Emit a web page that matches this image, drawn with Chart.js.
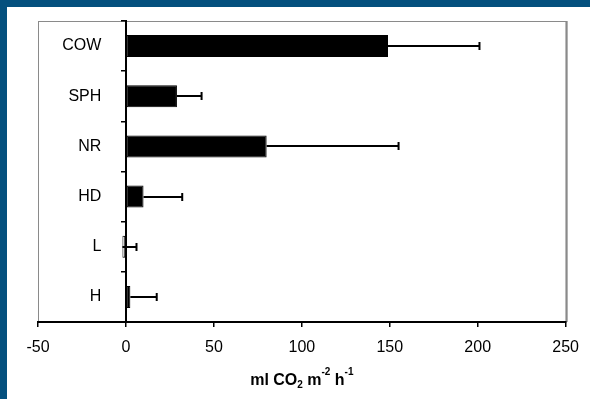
<!DOCTYPE html>
<html>
<head>
<meta charset="utf-8">
<script src="https://cdn.jsdelivr.net/npm/chart.js@4/dist/chart.umd.min.js"></script>
<style>
  html, body { margin: 0; padding: 0; background: #fff; overflow: hidden; }
  #wrap { width: 590px; height: 399px; position: relative; }
  canvas { display: block; }
  .edge { position: absolute; left: 0; top: 0; background: #04507e; }
  #edgeTop { width: 590px; height: 7px; }
  #edgeLeft { width: 7px; height: 399px; }
</style>
</head>
<body>
<div id="wrap">
  <canvas id="myChart" width="590" height="399"></canvas>
  <div class="edge" id="edgeTop"></div>
  <div class="edge" id="edgeLeft"></div>
</div>
<script>
var categories = ['COW', 'SPH', 'NR', 'HD', 'L', 'H'];
var fluxValues = [149, 29, 80, 10, -2, 2.5];
var fluxErrors = [52, 14, 75, 22, 8, 15];
var xTicks = [-50, 0, 50, 100, 150, 200, 250];
var barColors = ['#000', '#000', '#000', '#000', '#fff', '#000'];

var font = { family: '"Liberation Sans", Arial, sans-serif', size: 16 };

// white background and the grey plot area frame
var background = {
  id: 'background',
  beforeDraw: function(chart) {
    var c = chart.ctx;
    c.save();
    c.fillStyle = '#fff';
    c.fillRect(0, 0, chart.width, chart.height);
    var a = chart.chartArea;
    c.strokeStyle = '#8a8a8a';
    c.lineWidth = 1;
    c.strokeRect(a.left + 0.5, a.top + 0.5, a.right - a.left, a.bottom - a.top);
    c.fillStyle = '#8a8a8a';
    c.fillRect(a.right, a.top, 2, a.bottom - a.top);
    c.restore();
  }
};

var errorBars = {
  id: 'errorBars',
  afterDatasetsDraw: function(chart) {
    var c = chart.ctx;
    var xs = chart.scales.x;
    var meta = chart.getDatasetMeta(0);
    c.save();
    c.strokeStyle = '#000';
    c.lineWidth = 2;
    meta.data.forEach(function(bar, i) {
      var x1 = xs.getPixelForValue(fluxValues[i]);
      var x2 = xs.getPixelForValue(fluxValues[i] + fluxErrors[i]);
      var y = Math.round(bar.y);
      c.beginPath();
      c.moveTo(x1, y);
      c.lineTo(x2, y);
      c.moveTo(x2, y - 4);
      c.lineTo(x2, y + 4);
      c.stroke();
    });
    c.restore();
  }
};

var axisTitle = {
  id: 'axisTitle',
  afterDraw: function(chart) {
    var c = chart.ctx;
    var a = chart.chartArea;
    var parts = [
      { t: 'ml CO', s: 16, dy: 0 },
      { t: '2', s: 10, dy: 2.5 },
      { t: ' m', s: 16, dy: 0 },
      { t: '-2', s: 10, dy: -10.5 },
      { t: ' h', s: 16, dy: 0 },
      { t: '-1', s: 10, dy: -10.5 }
    ];
    c.save();
    c.fillStyle = '#000';
    c.textBaseline = 'alphabetic';
    var total = 0;
    parts.forEach(function(p) {
      c.font = 'bold ' + p.s + 'px ' + font.family;
      p.w = c.measureText(p.t).width;
      total += p.w;
    });
    var x = (a.left + a.right) / 2 - total / 2;
    var base = 385;
    parts.forEach(function(p) {
      c.font = 'bold ' + p.s + 'px ' + font.family;
      c.fillText(p.t, x, base + p.dy);
      x += p.w;
    });
    c.restore();
  }
};

const ctx = document.getElementById('myChart');

new Chart(ctx, {
  type: 'bar',
  data: {
    labels: categories,
    datasets: [{
      data: fluxValues,
      backgroundColor: barColors,
      borderColor: '#000',
      borderWidth: 1,
      borderSkipped: false,
      barPercentage: 0.44,
      categoryPercentage: 1,
      yAxisID: 'y'
    }]
  },
  options: {
    indexAxis: 'y',
    responsive: false,
    animation: false,
    devicePixelRatio: 1,
    layout: { padding: { left: 38, right: 15.6, top: 21, bottom: 30.8 } },
    plugins: {
      legend: { display: false },
      tooltip: { enabled: false }
    },
    scales: {
      x: {
        min: -50,
        max: 250,
        afterBuildTicks: function(scale) {
          scale.ticks = xTicks.map(function(v) { return { value: v }; });
        },
        ticks: { color: '#000', font: font, padding: 11, maxRotation: 0 },
        grid: { drawOnChartArea: false, tickLength: 5, color: '#000', lineWidth: 1.5 },
        border: { color: '#000', width: 2 }
      },
      // axis line and tick marks at x = 0
      y: {
        position: { x: 0 },
        ticks: { display: false },
        grid: { drawOnChartArea: false, tickLength: 4, color: '#000', lineWidth: 1.5, offset: true },
        border: { color: '#000', width: 2 }
      },
      // category labels, set a little left of the axis
      yLabels: {
        type: 'category',
        axis: 'y',
        labels: categories,
        offset: true,
        position: { x: -14 },
        ticks: { color: '#000', font: font },
        grid: { display: false },
        border: { display: false }
      }
    }
  },
  plugins: [background, errorBars, axisTitle]
});
</script>
</body>
</html>
